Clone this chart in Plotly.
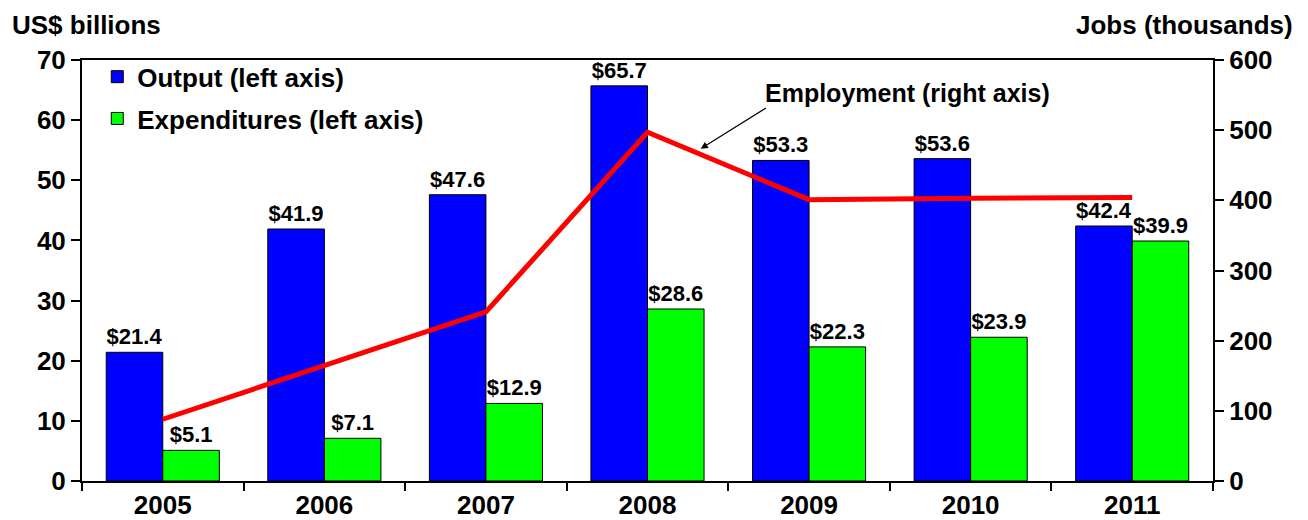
import plotly.graph_objects as go

years = ["2005", "2006", "2007", "2008", "2009", "2010", "2011"]
output = [21.4, 41.9, 47.6, 65.7, 53.3, 53.6, 42.4]
expenditures = [5.1, 7.1, 12.9, 28.6, 22.3, 23.9, 39.9]
employment = [88, 164, 241, 497, 401, 403, 404]
left_ticks = [0, 10, 20, 30, 40, 50, 60, 70]
right_ticks = [0, 100, 200, 300, 400, 500, 600]

FONT = "Liberation Sans, Arial, sans-serif"
TICK = 26
LBL = 22

fig = go.Figure()
fig.add_trace(go.Bar(
    x=years, y=output, name="<b>Output (left axis)</b>", legendgroup="a",
    marker=dict(color="#0000FF", line=dict(color="#000000", width=1)),
    text=[f"<b>${v:.1f}</b>" for v in output], textposition="outside",
    textfont=dict(family=FONT, size=LBL, color="#000000"),
    constraintext="none", cliponaxis=False,
))
fig.add_trace(go.Bar(
    x=years, y=expenditures, name="<b>Expenditures (left axis)</b>", legendgroup="b",
    marker=dict(color="#00FF00", line=dict(color="#000000", width=1)),
    text=[f"<b>${v:.1f}</b>" for v in expenditures], textposition="outside",
    textfont=dict(family=FONT, size=LBL, color="#000000"),
    constraintext="none", cliponaxis=False,
))
fig.add_trace(go.Scatter(
    x=years, y=employment, yaxis="y2", mode="lines",
    line=dict(color="#FF0000", width=5), showlegend=False,
    name="Employment (right axis)",
))

fig.update_layout(
    width=1300, height=512,
    margin=dict(l=74, r=95, t=52, b=39),
    paper_bgcolor="white", plot_bgcolor="white",
    font=dict(family=FONT, size=TICK, color="#000000"),
    barmode="group", bargap=0.30, bargroupgap=0,
    showlegend=True,
    legend=dict(x=0.0135, y=1.016, xanchor="left", yanchor="top",
                bgcolor="rgba(0,0,0,0)", font=dict(size=26, family=FONT),
                tracegroupgap=5, itemwidth=30),
    xaxis=dict(
        type="category", showline=True, linecolor="#000000", linewidth=2,
        ticks="outside", tickson="boundaries", ticklen=8, tickcolor="#000000",
        tickwidth=1.5, automargin=False,
        tickfont=dict(family=FONT, size=TICK, color="#000000"),
        tickvals=years, ticktext=[f"<b>{y}</b>" for y in years],
        mirror=True, showgrid=False,
    ),
    yaxis=dict(
        range=[0, 70], tickvals=left_ticks,
        ticktext=[f"<b>{t}</b>" for t in left_ticks],
        showline=True, linecolor="#000000", linewidth=2,
        ticks="outside", ticklen=9, tickcolor="#000000", tickwidth=1.5,
        automargin=False,
        tickfont=dict(family=FONT, size=TICK, color="#000000"),
        showgrid=False, zeroline=False, mirror=False,
    ),
    yaxis2=dict(
        range=[0, 600], tickvals=right_ticks,
        ticktext=[f"<b>{t}</b>" for t in right_ticks],
        overlaying="y", side="right",
        showline=True, linecolor="#000000", linewidth=2,
        ticks="outside", ticklen=9, tickcolor="#000000", tickwidth=1.5,
        automargin=False,
        tickfont=dict(family=FONT, size=TICK, color="#000000"),
        showgrid=False, zeroline=False,
    ),
)

fig.add_annotation(
    xref="paper", yref="paper", x=-0.0635, y=1.1235, xanchor="left", yanchor="top",
    text="<b>US$ billions</b>", showarrow=False,
    font=dict(family=FONT, size=26, color="#000000"),
)
fig.add_annotation(
    xref="paper", yref="paper", x=1.0725, y=1.1235, xanchor="right", yanchor="top",
    text="<b>Jobs (thousands)</b>", showarrow=False,
    font=dict(family=FONT, size=26, color="#000000"),
)
fig.add_annotation(
    xref="paper", yref="paper", x=0.602, y=0.9216, xanchor="left", yanchor="middle",
    text="<b>Employment (right axis)</b>", showarrow=False,
    font=dict(family=FONT, size=25, color="#000000"),
)
fig.add_annotation(
    xref="x domain", yref="y domain", x=0.547, y=0.789, ax=0.606, ay=0.888,
    axref="x domain", ayref="y domain", text="", showarrow=True,
    arrowhead=2, arrowsize=1.2, arrowwidth=1.2, arrowcolor="#000000",
)

fig.write_html("out.html")
